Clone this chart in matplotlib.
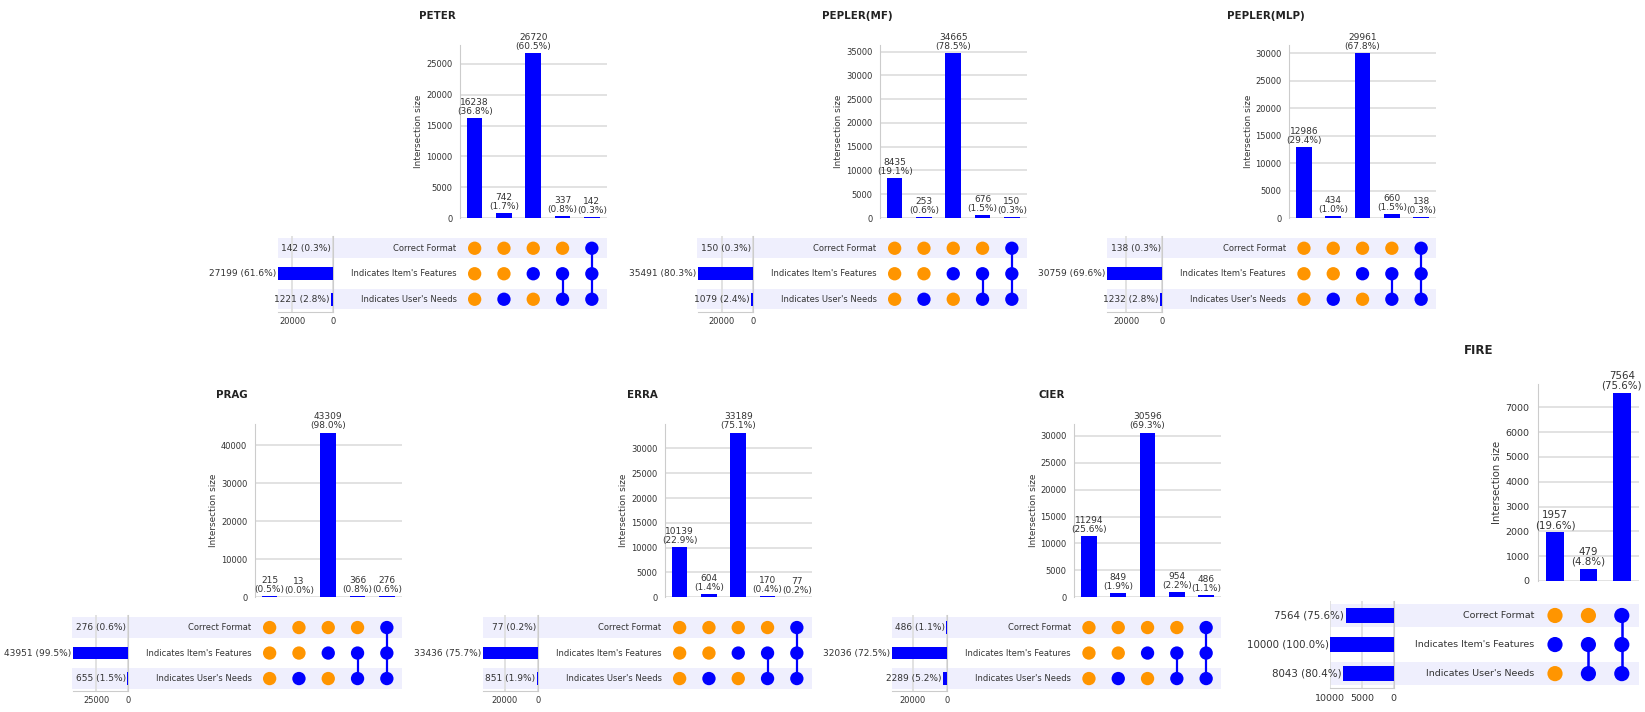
import numpy as np
import matplotlib.pyplot as plt
from matplotlib.patches import Rectangle
import matplotlib.transforms as mtransforms

W, H = 1645, 712

sets = ["Correct Format", "Indicates Item's Features", "Indicates User's Needs"]

# membership of each intersection column (Correct Format, Item's Features, User's Needs)
members5 = [(0, 0, 0), (0, 0, 1), (0, 1, 0), (0, 1, 1), (1, 1, 1)]
members3 = [(0, 1, 0), (0, 1, 1), (1, 1, 1)]

peter_counts = [16238, 742, 26720, 337, 142]
peter_totals = [142, 27199, 1221]
mf_counts = [8435, 253, 34665, 676, 150]
mf_totals = [150, 35491, 1079]
mlp_counts = [12986, 434, 29961, 660, 138]
mlp_totals = [138, 30759, 1232]
prag_counts = [215, 13, 43309, 366, 276]
prag_totals = [276, 43951, 655]
erra_counts = [10139, 604, 33189, 170, 77]
erra_totals = [77, 33436, 851]
cier_counts = [11294, 849, 30596, 954, 486]
cier_totals = [486, 32036, 2289]
fire_counts = [1957, 479, 7564]
fire_totals = [7564, 10000, 8043]

BLUE = '#0000ff'
ORANGE = '#ff9500'
BAND = '#efeffd'
GRID = '#dddddd'
SPINE = '#cccccc'
TXT = '#333333'

fig = plt.figure(figsize=(W / 100, H / 100), dpi=100)


def add_px(x, y, w, h):
    return fig.add_axes([x / W, 1 - (y + h) / H, w / W, h / H])


def draw_upset(name, counts, totals, members, spine_x, zero_y, s, ystep, tstep):
    n = len(counts)
    total = float(sum(counts))
    cw = 29.3 * s
    bw = n * cw
    bar_h = 173 * s
    fs = 6 * s
    fa = 6.5 * s

    # matrix
    mat_top = zero_y + 17.5 * s
    mat_h = 76.5 * s
    tot_w = 55.5 * s
    tot_right = spine_x - 127 * s
    ax_mat = add_px(spine_x, mat_top, bw, mat_h)
    ax_mat.set_xlim(-0.5, n - 0.5)
    ax_mat.set_ylim(2.5, -0.5)
    ax_mat.axis('off')
    # shading rows 0 and 2, from totals left edge to matrix right edge
    trans = mtransforms.blended_transform_factory(ax_mat.transAxes, ax_mat.transData)
    x0 = -(spine_x - (tot_right - tot_w)) / bw
    for r in (0, 2):
        ax_mat.add_patch(Rectangle((x0, r - 0.4), 1 - x0, 0.8, transform=trans,
                                   facecolor=BAND, edgecolor='none', clip_on=False, zorder=0))
    for r, lab in enumerate(sets):
        ax_mat.annotate(lab, xy=(0, r), xycoords=ax_mat.get_yaxis_transform(),
                        xytext=(-2.5 * s, 0), textcoords='offset points',
                        ha='right', va='center', fontsize=fs, color=TXT)
    for c, m in enumerate(members):
        rows = [r for r in range(3) if m[r]]
        if len(rows) > 1:
            ax_mat.plot([c, c], [min(rows), max(rows)], color=BLUE, lw=1.6 * s, zorder=2)
        cols = [BLUE if m[r] else ORANGE for r in range(3)]
        ax_mat.scatter([c] * 3, range(3), s=92 * s * s, c=cols, zorder=3, linewidths=0)

    # intersection bars
    ax_bar = add_px(spine_x, zero_y - bar_h, bw, bar_h)
    ax_bar.bar(range(n), counts, width=0.53, color=BLUE, zorder=3)
    ax_bar.set_xlim(-0.5, n - 0.5)
    ax_bar.set_ylim(0, max(counts) * 1.05)
    ax_bar.set_yticks(np.arange(0, max(counts) * 1.05, ystep))
    ax_bar.set_xticks([])
    ax_bar.yaxis.grid(True, color=GRID, lw=1.2, zorder=0)
    ax_bar.tick_params(axis='y', length=0, pad=5.5 * s, labelsize=fs, labelcolor=TXT)
    for sp in ('top', 'right', 'bottom'):
        ax_bar.spines[sp].set_visible(False)
    ax_bar.spines['left'].set_color(SPINE)
    ax_bar.set_ylabel('Intersection size', fontsize=6.4 * s, color=TXT, labelpad=2 * s)
    for i, v in enumerate(counts):
        ax_bar.annotate('%d\n(%.1f%%)' % (v, v / total * 100), xy=(i, v),
                        xytext=(0, 1.5 * s), textcoords='offset points',
                        ha='center', va='bottom', fontsize=fa, color=TXT,
                        linespacing=1.0)

    # set totals
    ax_tot = add_px(tot_right - tot_w, mat_top, tot_w, mat_h)
    ax_tot.set_facecolor('none')
    ax_tot.barh(range(3), totals, height=0.5, color=BLUE, zorder=3)
    ax_tot.set_xlim(max(totals), 0)
    ax_tot.set_ylim(2.5, -0.5)
    ax_tot.set_yticks([])
    ax_tot.set_xticks(np.arange(0, max(totals) + 1, tstep))
    ax_tot.xaxis.grid(True, color=GRID, lw=1.2, zorder=0)
    ax_tot.tick_params(axis='x', length=0, pad=3.5 * s, labelsize=fs, labelcolor=TXT)
    for sp in ('top', 'left'):
        ax_tot.spines[sp].set_visible(False)
    for sp in ('right', 'bottom'):
        ax_tot.spines[sp].set_color(SPINE)
    for r, v in enumerate(totals):
        ax_tot.annotate('%d (%.1f%%)' % (v, v / total * 100), xy=(v, r),
                        xytext=(-1, 0), textcoords='offset points',
                        ha='right', va='center', fontsize=fa, color=TXT)

    cx = ((tot_right - tot_w) + (spine_x + bw)) / 2 - 5 * s
    fig.text(cx / W, 1 - (zero_y - 202 * s) / H, name, ha='center', va='center',
             fontsize=7.4 * s, fontweight='bold', color='#222222')


draw_upset('PETER', peter_counts, peter_totals, members5, 460, 218, 1.0, 5000, 20000)
draw_upset('PEPLER(MF)', mf_counts, mf_totals, members5, 880, 218, 1.0, 5000, 20000)
draw_upset('PEPLER(MLP)', mlp_counts, mlp_totals, members5, 1289.3, 218, 1.0, 5000, 20000)
draw_upset('PRAG', prag_counts, prag_totals, members5, 255, 597.3, 1.0, 10000, 25000)
draw_upset('ERRA', erra_counts, erra_totals, members5, 665, 597.3, 1.0, 5000, 20000)
draw_upset('CIER', cier_counts, cier_totals, members5, 1074.3, 597.3, 1.0, 5000, 20000)
draw_upset('FIRE', fire_counts, fire_totals, members3, 1538.3, 581, 1.14, 1000, 5000)

fig.savefig('out.png', dpi=100)
